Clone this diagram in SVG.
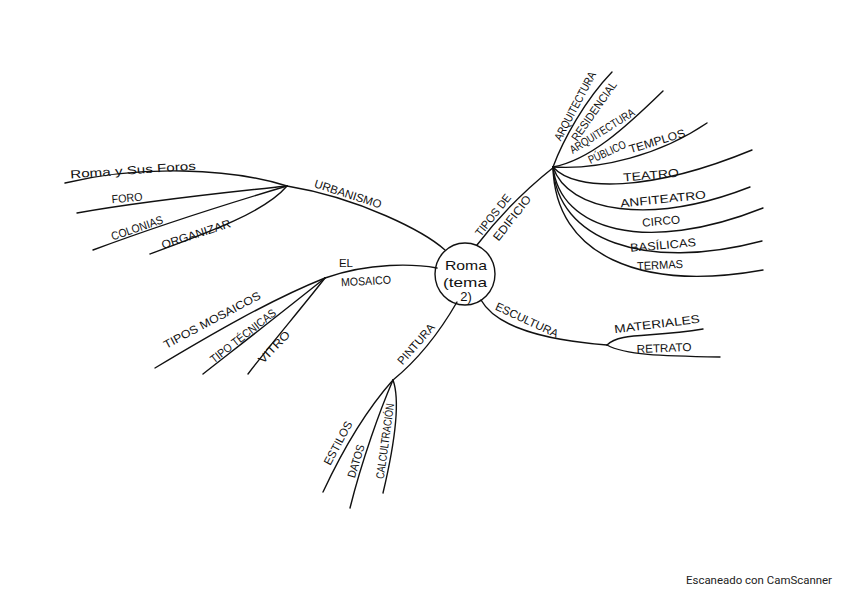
<svg xmlns="http://www.w3.org/2000/svg" width="848" height="599" viewBox="0 0 848 599">
<style>
.c{fill:none;stroke:#111;stroke-width:1.4;stroke-linecap:round}
.t{font-family:"Liberation Sans",Arial,sans-serif;font-size:11.5px;fill:#111;text-anchor:middle;dominant-baseline:central}
.m{font-size:13px}
.f{font-family:Roboto,"Liberation Sans",sans-serif;font-size:11px;fill:#222}
</style>
<rect width="848" height="599" fill="#fff"/>
<g id="connectors">
<path class="c" d="M445,250 C425,232 360,198 287,186"/>
<path class="c" d="M65,183 C140,165 230,168 287,186"/>
<path class="c" d="M77,213 C150,200 230,192 287,186"/>
<path class="c" d="M93,250 C160,225 240,200 287,186"/>
<path class="c" d="M150,254 C210,232 265,212 287,186"/>
<path class="c" d="M437,268 C415,264 370,262 325,278"/>
<path class="c" d="M325,278 C270,300 210,335 155,368"/>
<path class="c" d="M325,278 C285,310 240,345 203,374"/>
<path class="c" d="M325,278 C300,310 270,345 248,374"/>
<path class="c" d="M457,302 C442,328 420,358 393,380"/>
<path class="c" d="M393,380 C368,408 345,445 323,492"/>
<path class="c" d="M393,380 C380,410 362,460 350,508"/>
<path class="c" d="M393,380 C402,405 392,455 383,493"/>
<path class="c" d="M477,245 C500,215 525,190 554,167"/>
<path class="c" d="M553,167 C563,140 585,100 612,72"/>
<path class="c" d="M553,167 C590,160 625,128 663,91"/>
<path class="c" d="M553,167 C600,170 660,155 707,123"/>
<path class="c" d="M553,167 C575,192 650,192 752,150"/>
<path class="c" d="M553,167 C568,212 650,226 750,187"/>
<path class="c" d="M553,167 C560,230 645,255 763,208"/>
<path class="c" d="M553,167 C557,240 645,272 762,241"/>
<path class="c" d="M553,167 C555,255 640,292 763,270"/>
<path class="c" d="M481,300 C495,325 540,340 607,345"/>
<path class="c" d="M607,345 C620,332 650,338 703,329"/>
<path class="c" d="M607,345 C625,355 660,356 720,357"/>
</g>
<g id="center">
<ellipse class="c" cx="465" cy="274" rx="30" ry="31"/>
<text class="t m" x="466" y="265" textLength="42" lengthAdjust="spacingAndGlyphs">Roma</text>
<text class="t m" x="465" y="282" textLength="44" lengthAdjust="spacingAndGlyphs">(tema</text>
<text class="t m" x="466" y="296">2)</text>
</g>
<g id="urbanismo">
<text class="t" transform="translate(348,194) rotate(18)" textLength="70" lengthAdjust="spacingAndGlyphs">URBANISMO</text>
</g>
<g id="roma-foros"><text class="t" transform="translate(133,170) rotate(-4)" textLength="126" lengthAdjust="spacingAndGlyphs">Roma y Sus Foros</text></g>
<g id="foro"><text class="t" transform="translate(127,198) rotate(-5)" textLength="31" lengthAdjust="spacingAndGlyphs">FORO</text></g>
<g id="colonias"><text class="t" transform="translate(137,228) rotate(-19)" textLength="54" lengthAdjust="spacingAndGlyphs">COLONIAS</text></g>
<g id="organizar"><text class="t" transform="translate(196,234) rotate(-18)" textLength="72" lengthAdjust="spacingAndGlyphs">ORGANIZAR</text></g>
<g id="mosaico">
<text class="t" x="346" y="263">EL</text>
<text class="t" transform="translate(366,281) rotate(-3)" textLength="50" lengthAdjust="spacingAndGlyphs">MOSAICO</text>
</g>
<g id="tipos-mosaicos"><text class="t" transform="translate(212,320) rotate(-28)" textLength="108" lengthAdjust="spacingAndGlyphs">TIPOS MOSAICOS</text></g>
<g id="tipo-tecnicas"><text class="t" transform="translate(243,336) rotate(-38)" textLength="80" lengthAdjust="spacingAndGlyphs">TIPO TÉCNICAS</text></g>
<g id="vitro"><text class="t" transform="translate(274,347) rotate(-46)" textLength="40" lengthAdjust="spacingAndGlyphs">VITRO</text></g>
<g id="pintura"><text class="t" transform="translate(416,344) rotate(-49)" textLength="50" lengthAdjust="spacingAndGlyphs">PINTURA</text></g>
<g id="estilos"><text class="t" transform="translate(338,443) rotate(-62)" textLength="48" lengthAdjust="spacingAndGlyphs">ESTILOS</text></g>
<g id="datos"><text class="t" transform="translate(356,461) rotate(-73)" textLength="34" lengthAdjust="spacingAndGlyphs">DATOS</text></g>
<g id="calcultracion"><text class="t" transform="translate(385,441) rotate(-82)" textLength="76" lengthAdjust="spacingAndGlyphs">CALCULTRACIÓN</text></g>
<g id="tipos-edificio">
<text class="t" transform="translate(493,215) rotate(-52)" textLength="50" lengthAdjust="spacingAndGlyphs">TIPOS DE</text>
<text class="t" transform="translate(512,218) rotate(-52)" textLength="54" lengthAdjust="spacingAndGlyphs">EDIFICIO</text>
</g>
<g id="arq-residencial">
<text class="t" transform="translate(575,106) rotate(-62)" textLength="76" lengthAdjust="spacingAndGlyphs">ARQUITECTURA</text>
<text class="t" transform="translate(594,111) rotate(-55)" textLength="70" lengthAdjust="spacingAndGlyphs">RESIDENCIAL</text>
</g>
<g id="arq-publico">
<text class="t" transform="translate(602,131) rotate(-32)" textLength="74" lengthAdjust="spacingAndGlyphs">ARQUITECTURA</text>
<text class="t" transform="translate(607,152) rotate(-25)" textLength="40" lengthAdjust="spacingAndGlyphs">PÚBLICO</text>
</g>
<g id="templos"><text class="t" transform="translate(657,141) rotate(-17)" textLength="58" lengthAdjust="spacingAndGlyphs">TEMPLOS</text></g>
<g id="teatro"><text class="t" transform="translate(651,175) rotate(-5)" textLength="56" lengthAdjust="spacingAndGlyphs">TEATRO</text></g>
<g id="anfiteatro"><text class="t" transform="translate(663,199) rotate(-6)" textLength="86" lengthAdjust="spacingAndGlyphs">ANFITEATRO</text></g>
<g id="circo"><text class="t" transform="translate(661,221) rotate(-5)" textLength="38" lengthAdjust="spacingAndGlyphs">CIRCO</text></g>
<g id="basilicas"><text class="t" transform="translate(663,245) rotate(-5)" textLength="66" lengthAdjust="spacingAndGlyphs">BASÍLICAS</text></g>
<g id="termas"><text class="t" transform="translate(660,265) rotate(-3)" textLength="46" lengthAdjust="spacingAndGlyphs">TERMAS</text></g>
<g id="escultura"><text class="t" transform="translate(527,320) rotate(25)" textLength="68" lengthAdjust="spacingAndGlyphs">ESCULTURA</text></g>
<g id="materiales"><text class="t" transform="translate(657,324) rotate(-7)" textLength="86" lengthAdjust="spacingAndGlyphs">MATERIALES</text></g>
<g id="retrato"><text class="t" transform="translate(664,348) rotate(-2)" textLength="55" lengthAdjust="spacingAndGlyphs">RETRATO</text></g>
<text class="f" x="686" y="584" textLength="146" lengthAdjust="spacingAndGlyphs">Escaneado con CamScanner</text>
</svg>
